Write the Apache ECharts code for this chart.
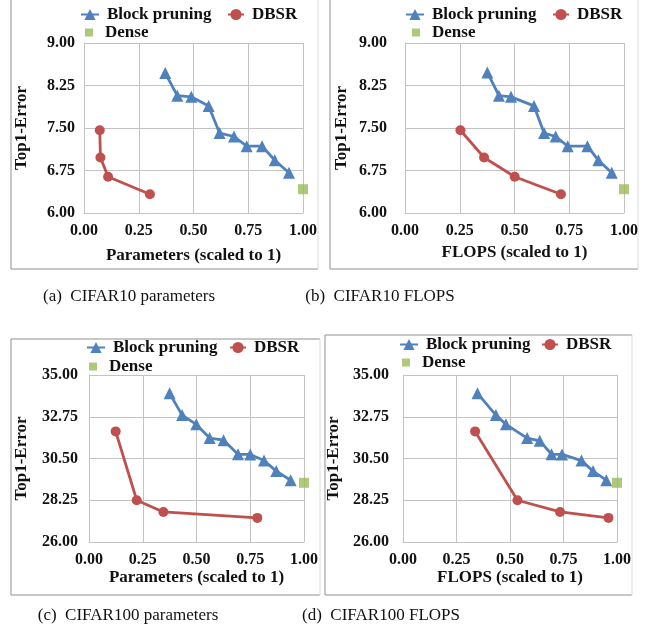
<!DOCTYPE html>
<html>
<head>
<meta charset="utf-8">
<script src="https://cdn.jsdelivr.net/npm/echarts@6/dist/echarts.min.js"></script>
<style>
  html, body { margin: 0; padding: 0; background: #fff; }
  #main { width: 654px; height: 633px; }
</style>
</head>
<body>
<div id="main"></div>
<script>
// values: [x (scaled to 1), top1 error]
var c10ParamBlock = [[0.371, 8.47], [0.426, 8.07], [0.490, 8.05], [0.569, 7.89], [0.619, 7.41], [0.685, 7.35], [0.743, 7.18], [0.813, 7.18], [0.871, 6.93], [0.936, 6.71]];
var c10ParamDbsr = [[0.072, 7.46], [0.075, 6.98], [0.110, 6.64], [0.301, 6.33]];
var c10FlopsBlock = [[0.376, 8.48], [0.429, 8.07], [0.484, 8.05], [0.589, 7.89], [0.635, 7.41], [0.688, 7.35], [0.743, 7.18], [0.833, 7.18], [0.883, 6.93], [0.944, 6.71]];
var c10FlopsDbsr = [[0.253, 7.46], [0.361, 6.98], [0.501, 6.64], [0.712, 6.33]];
var c10Dense = [[1.0, 6.42]];

var c100ParamBlock = [[0.375, 34.01], [0.433, 32.84], [0.499, 32.34], [0.561, 31.60], [0.626, 31.49], [0.693, 30.73], [0.750, 30.72], [0.814, 30.39], [0.871, 29.82], [0.938, 29.33]];
var c100ParamDbsr = [[0.124, 31.96], [0.222, 28.25], [0.346, 27.62], [0.783, 27.30]];
var c100FlopsBlock = [[0.348, 34.01], [0.434, 32.84], [0.481, 32.34], [0.580, 31.60], [0.639, 31.45], [0.694, 30.73], [0.743, 30.72], [0.834, 30.39], [0.888, 29.82], [0.950, 29.33]];
var c100FlopsDbsr = [[0.337, 31.96], [0.535, 28.25], [0.734, 27.62], [0.960, 27.30]];
var c100Dense = [[1.0, 29.19]];

// axis ranges [min, max, step]
var xRange = [0, 1, 0.25];
var c10Range = [6, 9, 0.75];
var c100Range = [26, 35, 2.25];

var captions = ['(a)  CIFAR10 parameters', '(b)  CIFAR10 FLOPS', '(c)  CIFAR100 parameters', '(d)  CIFAR100 FLOPS'];
var xNames = ['Parameters (scaled to 1)', 'FLOPS (scaled to 1)', 'Parameters (scaled to 1)', 'FLOPS (scaled to 1)'];
var yName = 'Top1-Error';

var FONT = "'Liberation Serif', serif";
var BLUE = '#4f81bd', RED = '#c0504d', GREEN = '#9bbb59';

// layout of the four panels (pixels)
var panels = [
    {grid: [84, 43, 219, 170], ylab: 9, ygap: 54, xgap: 34, leg: [80, 6, 227, 24, 85], frame: [11, -2, 318, 269], cap: [129, 297],
     block: c10ParamBlock, dbsr: c10ParamDbsr, dense: c10Dense, y: c10Range},
    {grid: [405, 43, 219, 170], ylab: 18, ygap: 55, xgap: 31, leg: [405, 6, 552, 24, 412], frame: [330, -2, 638, 269], cap: [380, 297],
     block: c10FlopsBlock, dbsr: c10FlopsDbsr, dense: c10Dense, y: c10Range},
    {grid: [89, 375, 215, 167], ylab: 11, ygap: 59, xgap: 26, leg: [86, 339, 229, 358, 89], frame: [11, 339, 320, 595], cap: [128, 616],
     block: c100ParamBlock, dbsr: c100ParamDbsr, dense: c100Dense, y: c100Range},
    {grid: [403, 375, 214, 167], ylab: 14, ygap: 61, xgap: 23, leg: [399, 336, 541, 354, 402], frame: [325, 335, 632, 595], cap: [381, 616],
     block: c100FlopsBlock, dbsr: c100FlopsDbsr, dense: c100Dense, y: c100Range}
];

function fmt(v) { return v.toFixed(2); }

var grids = [], xAxes = [], yAxes = [], series = [], legends = [], graphics = [];
var labelStyle = {fontFamily: FONT, fontWeight: 'bold', fontSize: 16, color: '#111'};
var nameStyle = {fontFamily: FONT, fontWeight: 'bold', fontSize: 17, color: '#111'};
var gridLine = {lineStyle: {color: '#c3c3c3', width: 1}};

panels.forEach(function (p, i) {
    grids.push({left: p.grid[0], top: p.grid[1], width: p.grid[2], height: p.grid[3], containLabel: false});
    xAxes.push({
        type: 'value', gridIndex: i, min: xRange[0], max: xRange[1], interval: xRange[2],
        name: xNames[i], nameLocation: 'middle', nameGap: p.xgap, nameTextStyle: nameStyle,
        axisLine: {lineStyle: {color: '#c3c3c3'}}, axisTick: {show: false},
        axisLabel: Object.assign({margin: 10, formatter: fmt}, labelStyle),
        splitLine: gridLine
    });
    yAxes.push({
        type: 'value', gridIndex: i, min: p.y[0], max: p.y[1], interval: p.y[2],
        name: yName, nameLocation: 'middle', nameGap: p.ygap, nameTextStyle: nameStyle,
        axisLine: {show: true, lineStyle: {color: '#c3c3c3'}}, axisTick: {show: false},
        axisLabel: Object.assign({margin: p.ylab, formatter: fmt}, labelStyle),
        splitLine: gridLine
    });
    series.push({
        name: 'Block pruning', type: 'line', xAxisIndex: i, yAxisIndex: i, data: p.block,
        symbol: 'triangle', symbolSize: 12, color: BLUE,
        lineStyle: {width: 2.8, color: BLUE}, itemStyle: {color: BLUE}, animation: false
    });
    series.push({
        name: 'DBSR', type: 'line', xAxisIndex: i, yAxisIndex: i, data: p.dbsr,
        symbol: 'circle', symbolSize: 10, color: RED,
        lineStyle: {width: 2.8, color: RED}, itemStyle: {color: RED}, animation: false
    });
    series.push({
        name: 'Dense', type: 'scatter', xAxisIndex: i, yAxisIndex: i, data: p.dense,
        symbol: 'rect', symbolSize: 10, itemStyle: {color: GREEN}, animation: false
    });

    var legText = {fontFamily: FONT, fontWeight: 'bold', fontSize: 17, color: '#111', padding: [0, 0, 0, 3]};
    legends.push({left: p.leg[0], top: p.leg[1], padding: 0, itemWidth: 18, itemHeight: 14,
        selectedMode: false, data: ['Block pruning'], textStyle: legText});
    legends.push({left: p.leg[2], top: p.leg[1], padding: 0, itemWidth: 16, itemHeight: 14,
        selectedMode: false, data: ['DBSR'], textStyle: legText});
    legends.push({left: p.leg[4], top: p.leg[3], padding: 0, itemWidth: 8, itemHeight: 8,
        selectedMode: false, data: [{name: 'Dense', icon: 'rect'}],
        textStyle: Object.assign({}, legText, {padding: [0, 0, 0, 7]})});

    // panel frame
    var f = p.frame;
    graphics.push({type: 'polyline', silent: true,
        shape: {points: [[f[2], f[1]], [f[0], f[1]], [f[0], f[3]], [f[2], f[3]]]},
        style: {stroke: '#8f8f8f', lineWidth: 1, fill: null}});
    graphics.push({type: 'line', silent: true,
        shape: {x1: f[2], y1: f[1], x2: f[2], y2: f[3]},
        style: {stroke: '#dcdcdc', lineWidth: 1}});
    // caption
    graphics.push({type: 'text', silent: true, x: p.cap[0], y: p.cap[1],
        style: {text: captions[i], fontFamily: FONT, fontSize: 17, fill: '#111',
            align: 'center', verticalAlign: 'middle'}});
});

var myChart = echarts.init(document.getElementById('main'));
myChart.setOption({
    animation: false,
    backgroundColor: '#fff',
    grid: grids,
    xAxis: xAxes,
    yAxis: yAxes,
    legend: legends,
    series: series,
    graphic: graphics
});
</script>
</body>
</html>
